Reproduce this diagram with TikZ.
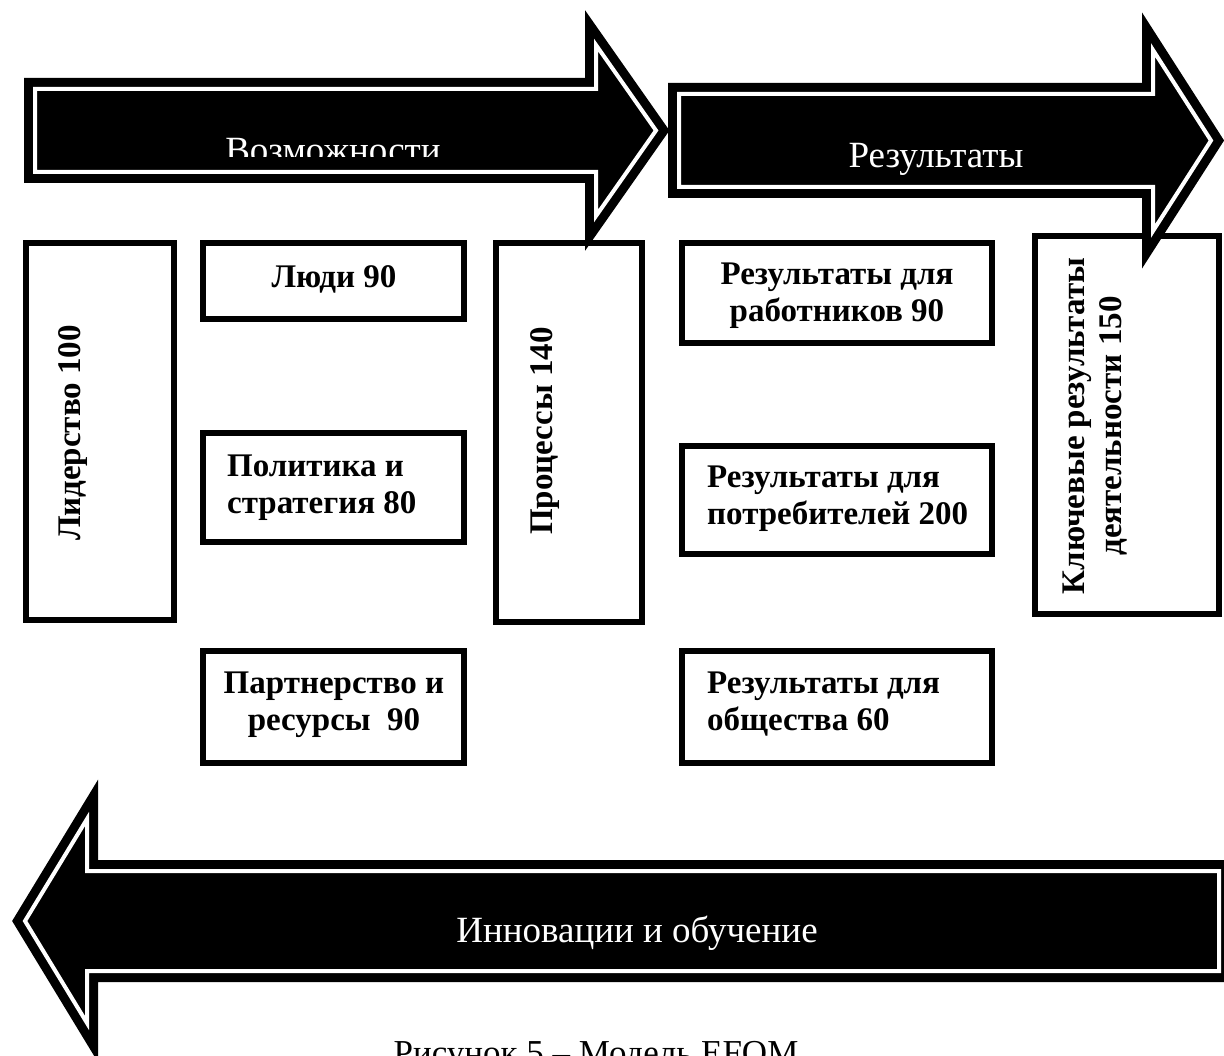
\documentclass[tikz,border=0pt]{standalone}
\usepackage{fontspec}
\setmainfont{Liberation Serif}

\begin{document}
\begin{tikzpicture}[x=1pt,y=-1pt,
    box/.style={draw=black,line width=6pt,rectangle,inner sep=0pt},
    boxtext/.style={font=\fontsize{33}{37}\selectfont\bfseries,inner sep=0pt},
    bigarrow/.style={fill=black,draw=black,line width=9pt,double=white,double distance=4pt,line join=miter},
    arrowtext/.style={font=\fontsize{37}{42}\selectfont,text=white,inner sep=0pt}]
                \useasboundingbox(0,0)rectangle(1224,1056);
                \clip(0,0)rectangle(1224,1056);
                % boxes
                \node[box,minimum width=148,minimum height=377](lead)at(100,431.5){};
                \node[box,minimum width=261,minimum height=76](people)at(333.5,281){};
                \node[box,minimum width=261,minimum height=109](policy)at(333.5,487.5){};
                \node[box,minimum width=261,minimum height=112](partner)at(333.5,707){};
                \node[box,minimum width=146,minimum height=379](process)at(569,432.5){};
                \node[box,minimum width=310,minimum height=100](staff)at(837,293){};
                \node[box,minimum width=310,minimum height=108](customer)at(837,500){};
                \node[box,minimum width=310,minimum height=112](society)at(837,707){};
                \node[box,minimum width=184,minimum height=378](keyres)at(1127,425){};
                \node[boxtext,rotate=90,anchor=base](leadtxt)at(80,433){Лидерство 100};
                \node[boxtext,anchor=base](peopletxt)at(334,288){Люди 90};
                \node[boxtext,align=left,anchor=north west](policytxt)at(227,455){Политика и\\стратегия 80};
                \node[boxtext,align=center,anchor=north](partnertxt)at(334,672){Партнерство и\\ресурсы\ \ 90};
                \node[boxtext,rotate=90,anchor=base](processtxt)at(552,431){Процессы 140};
                \node[boxtext,align=center,anchor=north](stafftxt)at(837,263){Результаты для\\работников 90};
                \node[boxtext,align=left,anchor=north west](customertxt)at(707,466){Результаты для\\потребителей 200};
                \node[boxtext,align=left,anchor=north west](societytxt)at(707,672){Результаты для\\общества 60};
                \node[boxtext,rotate=90,align=center](keyrestxt)at(1095,426){Ключевые результаты\\деятельности 150};
                % block arrows
                \filldraw[bigarrow](35,89)--(596,89)--(596,45)--(656,130.5)--(596,216)--(596,172)--(35,172)--cycle;
                \filldraw[bigarrow](679,94)--(1153,94)--(1153,50)--(1211,140.5)--(1153,231)--(1153,187)--(679,187)--cycle;
                \filldraw[bigarrow](1219,871)--(87,871)--(87,819)--(25,921)--(87,1023)--(87,971)--(1219,971)--cycle;
                \begin{scope}
                \clip(0,0)rectangle(1224,157);
                \node[arrowtext,anchor=base](opptxt)at(333,163){Возможности};
                \end{scope}
                \node[arrowtext,anchor=base](restxt)at(936,168){Результаты};
                \node[arrowtext,anchor=base](innotxt)at(637,942){Инновации и обучение};
                \node[font=\fontsize{35}{40}\selectfont,anchor=base](caption)at(596,1064){Рисунок 5 – Модель EFQM};
            \end{tikzpicture}
\end{document}
